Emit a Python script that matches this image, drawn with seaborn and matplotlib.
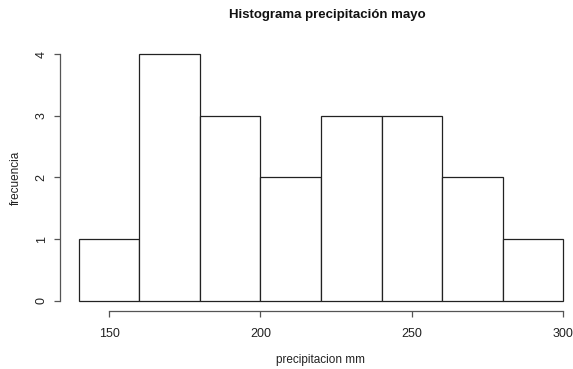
import matplotlib
matplotlib.use("Agg")
import matplotlib.pyplot as plt
import seaborn as sns
import numpy as np

# Histogram of May rainfall: bin edges and counts per bin
bin_edges = [140, 160, 180, 200, 220, 240, 260, 280, 300]
counts = [1, 4, 3, 2, 3, 3, 2, 1]
x_ticks = [150, 200, 250, 300]
y_ticks = [0, 1, 2, 3, 4]

sns.set_style("ticks")
plt.rcParams["font.family"] = ["Liberation Sans", "DejaVu Sans"]

mids = [(a + b) / 2 for a, b in zip(bin_edges[:-1], bin_edges[1:])]

fig = plt.figure(figsize=(5.73, 3.69), dpi=100)
ax = fig.add_axes([59.6 / 573, 0.1585, (582.4 - 59.6) / 573, 0.8797 - 0.1585])

sns.histplot(x=mids, weights=counts, bins=bin_edges, ax=ax,
             color="white", edgecolor="#222222", linewidth=0.9, alpha=1)

ax.set_xlim(133.6, 306.4)
ax.set_ylim(-0.16, 4.16)
ax.set_xticks(x_ticks)
ax.set_yticks(y_ticks)
ax.set_yticklabels([str(v) for v in y_ticks], rotation=90, va="center")

for side in ("top", "right"):
    ax.spines[side].set_visible(False)
ax.spines["bottom"].set_bounds(x_ticks[0], x_ticks[-1])
ax.spines["left"].set_bounds(y_ticks[0], y_ticks[-1])
for side in ("bottom", "left"):
    ax.spines[side].set_color("#555555")
    ax.spines[side].set_linewidth(0.9)
ax.tick_params(axis="both", length=4.5, width=0.9, color="#555555",
               labelsize=9, labelcolor="#222222")
ax.tick_params(axis="x", pad=8)
ax.tick_params(axis="y", pad=4)

ax.set_xlabel("precipitacion mm", fontsize=8.5, color="#222222", labelpad=10)
ax.set_ylabel("frecuencia", fontsize=8.5, color="#222222", labelpad=10)
fig.text(327 / 573, 1 - 15 / 369, "Histograma precipitación mayo",
         ha="center", va="center", fontsize=9.5, fontweight="bold", color="#111111")

fig.savefig("out.png", dpi=100, facecolor="white")
